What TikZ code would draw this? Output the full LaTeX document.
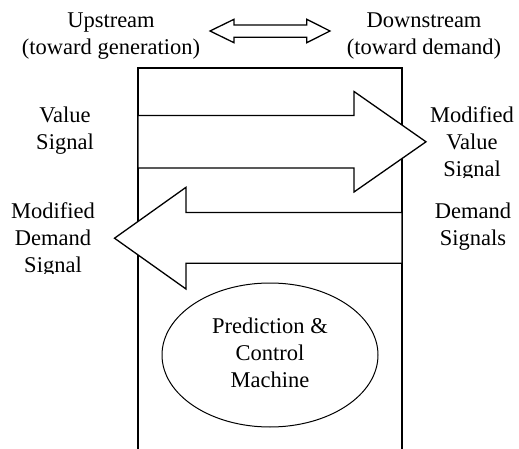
\documentclass[tikz,border=0pt]{standalone}
\usepackage{fontspec}
\setmainfont{Liberation Serif}
\usetikzlibrary{shapes.geometric}
\begin{document}
\begin{tikzpicture}[x=1pt,y=-1pt,
  lbl/.style={align=center,anchor=base,inner sep=0pt,
    font=\fontsize{22.5}{27}\selectfont},
  shapeline/.style={line width=1.3pt,line join=miter},
  fillarrow/.style={fill=white,draw=none}]
\useasboundingbox (0,0) rectangle (519,449);
% frame (open at the bottom)
\draw[shapeline] (138,449) -- (138,68) -- (402,68) -- (402,449);
% double arrow at top
\draw[shapeline,fill=white] (210,31) -- (234,19.3) -- (234,25) -- (306.7,25) -- (306.7,19.3)
  -- (330,31) -- (306.7,42.7) -- (306.7,37.3) -- (234,37.3) -- (234,42.7) -- cycle;
% right arrow (value signal)
\fill[fillarrow] (138.7,115.5) -- (354,115.5) -- (354,91.5) -- (426,141.8) -- (354,192)
  -- (354,168) -- (138.7,168) -- cycle;
\draw[shapeline] (138,115.5) -- (354,115.5) -- (354,91.5) -- (426,141.8) -- (354,192)
  -- (354,168) -- (138,168);
% left arrow (demand signal)
\fill[fillarrow] (401.3,212.5) -- (186,212.5) -- (186,187.3) -- (114.5,238.2) -- (186,289)
  -- (186,263.3) -- (401.3,263.3) -- cycle;
\draw[shapeline] (402,212.5) -- (186,212.5) -- (186,187.3) -- (114.5,238.2) -- (186,289)
  -- (186,263.3) -- (402,263.3);
% ellipse
\node[draw,ellipse,line width=1pt,minimum width=216pt,minimum height=144pt,inner sep=0pt]
  (pcm) at (270,355) {};
\node[lbl] (pcmt) at (270,387) {Prediction \&\\Control\\Machine};
% labels
\node[lbl] (up) at (111,55) {Upstream\\(toward generation)};
\node[lbl] (down) at (424,55) {Downstream\\(toward demand)};
\node[lbl] (val) at (65,150) {Value\\Signal};
\begin{scope}
\clip (430,95) rectangle (519,177.5);
\node[lbl] (mval) at (472,177) {Modified\\Value\\Signal};
\end{scope}
\begin{scope}
\clip (0,190) rectangle (110,273.5);
\node[lbl] (mdem) at (53,272) {Modified\\Demand\\Signal};
\end{scope}
\node[lbl] (dem) at (473,245) {Demand\\Signals};
\end{tikzpicture}
\end{document}
